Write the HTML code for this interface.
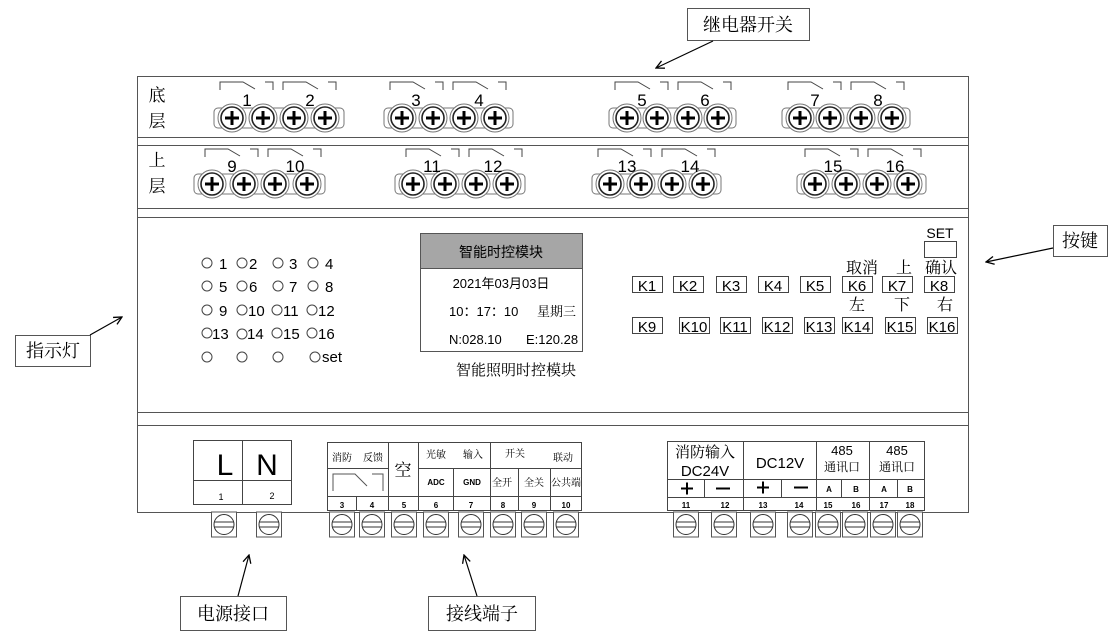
<!DOCTYPE html>
<html><head><meta charset="utf-8"><style>
html,body{margin:0;padding:0;background:#fff;}
svg{display:block;font-family:"Liberation Sans","Noto Sans CJK SC",sans-serif;}
.s{font-family:"Noto Serif CJK SC","Noto Sans CJK SC",serif;}
</style></head><body>
<svg width="1120" height="637" viewBox="0 0 1120 637" xmlns="http://www.w3.org/2000/svg">
<defs>
<g id="scr">
<circle r="14" fill="#fff" stroke="#777" stroke-width="1"/>
<circle r="11" fill="#fff" stroke="#222" stroke-width="1.6"/>
<path d="M-7 0H7M0 -7V7" stroke="#000" stroke-width="3"/>
</g>
<g id="ts">
<rect x="-12.5" y="0" width="25" height="25" fill="#fff" stroke="#555"/>
<circle cx="0" cy="12.5" r="10" fill="#fff" stroke="#333"/>
<path d="M-10 10H10M-10 15H10" stroke="#333"/>
</g>
<marker id="ar" markerWidth="10" markerHeight="10" refX="9" refY="5" orient="auto" markerUnits="userSpaceOnUse"><path d="M1 1L9 5L1 9" fill="none" stroke="#000" stroke-width="1.3"/></marker>
</defs>

<!-- main box -->
<rect x="137.5" y="76.5" width="831" height="436" fill="#fff" stroke="#555"/>
<path d="M137 137.5H969M137 145.5H969M137 208.5H969M137 217.5H969M137 412.5H969M137 425.5H969" stroke="#555"/>

<text x="157" y="101" font-size="17" class="s" text-anchor="middle">底</text>
<text x="157" y="127" font-size="17" class="s" text-anchor="middle">层</text>
<text x="157" y="166" font-size="17" class="s" text-anchor="middle">上</text>
<text x="157" y="192" font-size="17" class="s" text-anchor="middle">层</text>

<g fill="#fff" stroke="#777">
<rect x="214" y="108" width="130" height="20" rx="4"/>
<rect x="384" y="108" width="129" height="20" rx="4"/>
<rect x="609" y="108" width="127" height="20" rx="4"/>
<rect x="782" y="108" width="128" height="20" rx="4"/>
<rect x="194" y="174" width="131" height="20" rx="4"/>
<rect x="395" y="174" width="130" height="20" rx="4"/>
<rect x="592" y="174" width="129" height="20" rx="4"/>
<rect x="797" y="174" width="129" height="20" rx="4"/>
</g>
<use href="#scr" x="232" y="118"/><use href="#scr" x="263" y="118"/><use href="#scr" x="294" y="118"/><use href="#scr" x="325" y="118"/>
<use href="#scr" x="402" y="118"/><use href="#scr" x="433" y="118"/><use href="#scr" x="464" y="118"/><use href="#scr" x="495" y="118"/>
<use href="#scr" x="627" y="118"/><use href="#scr" x="657" y="118"/><use href="#scr" x="688" y="118"/><use href="#scr" x="718" y="118"/>
<use href="#scr" x="800" y="118"/><use href="#scr" x="830" y="118"/><use href="#scr" x="861" y="118"/><use href="#scr" x="892" y="118"/>
<use href="#scr" x="212" y="184"/><use href="#scr" x="244" y="184"/><use href="#scr" x="275" y="184"/><use href="#scr" x="307" y="184"/>
<use href="#scr" x="413" y="184"/><use href="#scr" x="445" y="184"/><use href="#scr" x="476" y="184"/><use href="#scr" x="507" y="184"/>
<use href="#scr" x="610" y="184"/><use href="#scr" x="641" y="184"/><use href="#scr" x="672" y="184"/><use href="#scr" x="703" y="184"/>
<use href="#scr" x="815" y="184"/><use href="#scr" x="846" y="184"/><use href="#scr" x="877" y="184"/><use href="#scr" x="908" y="184"/>

<g fill="none" stroke="#444" stroke-width="1">
<path d="M220 90V82H243L255 89M265 82H273V90"/>
<path d="M283 90V82H306L318 89M328 82H336V90"/>
<path d="M390 90V82H413L425 89M435 82H443V90"/>
<path d="M453 90V82H476L488 89M498 82H506V90"/>
<path d="M615 90V82H638L650 89M660 82H668V90"/>
<path d="M678 90V82H701L713 89M723 82H731V90"/>
<path d="M788 90V82H811L823 89M833 82H841V90"/>
<path d="M851 90V82H874L886 89M896 82H904V90"/>
<path d="M205 157V149H228L240 156M250 149H258V157"/>
<path d="M268 157V149H291L303 156M313 149H321V157"/>
<path d="M406 157V149H429L441 156M451 149H459V157"/>
<path d="M469 157V149H492L504 156M514 149H522V157"/>
<path d="M598 157V149H621L633 156M643 149H651V157"/>
<path d="M662 157V149H685L697 156M707 149H715V157"/>
<path d="M805 157V149H828L840 156M850 149H858V157"/>
<path d="M868 157V149H891L903 156M913 149H921V157"/>
</g>
<g font-size="17" text-anchor="middle">
<text x="247" y="106">1</text><text x="310" y="106">2</text><text x="416" y="106">3</text><text x="479" y="106">4</text>
<text x="642" y="106">5</text><text x="705" y="106">6</text><text x="815" y="106">7</text><text x="878" y="106">8</text>
<text x="232" y="172">9</text><text x="295" y="172">10</text><text x="432" y="172">11</text><text x="493" y="172">12</text>
<text x="627" y="172">13</text><text x="690" y="172">14</text><text x="833" y="172">15</text><text x="895" y="172">16</text>
</g>

<!-- indicators -->
<g fill="none" stroke="#444">
<circle cx="207" cy="263" r="5"/><circle cx="242" cy="263" r="5"/><circle cx="278" cy="263" r="5"/><circle cx="313" cy="263" r="5"/>
<circle cx="207" cy="286" r="5"/><circle cx="242" cy="286" r="5"/><circle cx="278" cy="286" r="5"/><circle cx="313" cy="286" r="5"/>
<circle cx="207" cy="310" r="5"/><circle cx="242" cy="310" r="5"/><circle cx="277" cy="310" r="5"/><circle cx="312" cy="310" r="5"/>
<circle cx="207" cy="333" r="5"/><circle cx="242" cy="334" r="5"/><circle cx="277" cy="333" r="5"/><circle cx="312" cy="333" r="5"/>
<circle cx="207" cy="357" r="5"/><circle cx="242" cy="357" r="5"/><circle cx="278" cy="357" r="5"/><circle cx="315" cy="357" r="5"/>
</g>
<g font-size="15">
<text x="219" y="269">1</text><text x="249" y="269">2</text><text x="289" y="269">3</text><text x="325" y="269">4</text>
<text x="219" y="292">5</text><text x="249" y="292">6</text><text x="289" y="292">7</text><text x="325" y="292">8</text>
<text x="219" y="316">9</text><text x="248" y="316">10</text><text x="283" y="316">11</text><text x="318" y="316">12</text>
<text x="212" y="339">13</text><text x="247" y="339">14</text><text x="283" y="339">15</text><text x="318" y="339">16</text>
<text x="322" y="362">set</text>
</g>

<!-- LCD -->
<rect x="420.5" y="233.5" width="162" height="118" fill="#fff" stroke="#555"/>
<rect x="421" y="234" width="161" height="34" fill="#a6a6a6"/>
<line x1="420" y1="268.5" x2="582" y2="268.5" stroke="#555"/>
<text x="501" y="257" font-size="14" text-anchor="middle">智能时控模块</text>
<text x="501" y="288" font-size="13" text-anchor="middle">2021年03月03日</text>
<text x="449" y="316" font-size="13">10：17：10</text>
<text x="537" y="316" font-size="13" class="s">星期三</text>
<text x="449" y="344" font-size="13">N:028.10</text>
<text x="526" y="344" font-size="13">E:120.28</text>
<text x="516" y="375" font-size="15" class="s" text-anchor="middle">智能照明时控模块</text>

<!-- keys -->
<g fill="none" stroke="#444">
<rect x="632.5" y="276.5" width="30" height="16"/><rect x="673.5" y="276.5" width="30" height="16"/><rect x="716.5" y="276.5" width="30" height="16"/><rect x="758.5" y="276.5" width="30" height="16"/>
<rect x="800.5" y="276.5" width="30" height="16"/><rect x="842.5" y="276.5" width="30" height="16"/><rect x="882.5" y="276.5" width="30" height="16"/><rect x="924.5" y="276.5" width="30" height="16"/>
<rect x="632.5" y="317.5" width="30" height="16"/><rect x="679.5" y="317.5" width="30" height="16"/><rect x="720.5" y="317.5" width="30" height="16"/><rect x="762.5" y="317.5" width="30" height="16"/>
<rect x="804.5" y="317.5" width="30" height="16"/><rect x="842.5" y="317.5" width="30" height="16"/><rect x="885.5" y="317.5" width="30" height="16"/><rect x="927.5" y="317.5" width="30" height="16"/>
<rect x="924.5" y="241.5" width="32" height="16"/>
</g>
<g font-size="15" text-anchor="middle">
<text x="647" y="291">K1</text><text x="688" y="291">K2</text><text x="731" y="291">K3</text><text x="773" y="291">K4</text>
<text x="815" y="291">K5</text><text x="857" y="291">K6</text><text x="897" y="291">K7</text><text x="939" y="291">K8</text>
<text x="647" y="332">K9</text><text x="694" y="332">K10</text><text x="735" y="332">K11</text><text x="777" y="332">K12</text>
<text x="819" y="332">K13</text><text x="857" y="332">K14</text><text x="900" y="332">K15</text><text x="942" y="332">K16</text>
<text x="940" y="238" font-size="14">SET</text>
</g>
<g font-size="16" class="s" text-anchor="middle">
<text x="862" y="273">取消</text><text x="904" y="273">上</text><text x="941" y="273">确认</text>
<text x="857" y="310">左</text><text x="902" y="310">下</text><text x="945" y="310">右</text>
</g>

<!-- L N -->
<rect x="193.5" y="440.5" width="98" height="64" fill="#fff" stroke="#444"/>
<path d="M242.5 440V504M193 480.5H291" stroke="#444"/>
<text x="225" y="475" font-size="30" text-anchor="middle">L</text>
<text x="267" y="475" font-size="30" text-anchor="middle">N</text>
<text x="221" y="500" font-size="9" text-anchor="middle">1</text>
<text x="272" y="499" font-size="9" text-anchor="middle">2</text>
<use href="#ts" x="224" y="512"/><use href="#ts" x="269" y="512"/>

<!-- block 2 -->
<g fill="none" stroke="#444">
<rect x="327.5" y="442.5" width="254" height="68"/>
<path d="M388.5 442V510M418.5 442V510M490.5 442V510M453.5 468V510M518.5 468V510M550.5 468V510M356.5 496V510"/>
<path d="M327 468.5H388M418 468.5H582M327 496.5H582"/>
<path d="M333 491V474H355L367 486M372 474H383V491" stroke="#555"/>
</g>
<g font-size="10" class="s" text-anchor="middle">
<text x="342" y="461">消防</text><text x="373" y="461">反馈</text>
<text x="436" y="458">光敏</text><text x="473" y="458">输入</text>
<text x="515" y="457">开关</text><text x="563" y="461">联动</text>
<text x="502" y="486">全开</text><text x="534" y="486">全关</text><text x="566" y="486">公共端</text>
</g>
<text x="403" y="476" font-size="17" class="s" text-anchor="middle">空</text>
<g font-size="8" text-anchor="middle" font-weight="bold">
<text x="436" y="485">ADC</text><text x="472" y="485">GND</text>
<text x="342" y="508">3</text><text x="372" y="508">4</text><text x="404" y="508">5</text><text x="436" y="508">6</text>
<text x="471" y="508">7</text><text x="503" y="508">8</text><text x="534" y="508">9</text><text x="566" y="508">10</text>
</g>
<use href="#ts" x="342" y="512"/><use href="#ts" x="372" y="512"/><use href="#ts" x="404" y="512"/><use href="#ts" x="436" y="512"/>
<use href="#ts" x="471" y="512"/><use href="#ts" x="503" y="512"/><use href="#ts" x="534" y="512"/><use href="#ts" x="566" y="512"/>

<!-- block 3 -->
<g fill="none" stroke="#444">
<rect x="667.5" y="441.5" width="257" height="69"/>
<path d="M743.5 441V510M816.5 441V510M869.5 441V510M704.5 479V497M781.5 479V497M841.5 479V497M897.5 479V497"/>
<path d="M667 479.5H925M667 497.5H925"/>
</g>
<text x="705" y="457" font-size="15" class="s" text-anchor="middle">消防输入</text>
<text x="705" y="476" font-size="15" text-anchor="middle">DC24V</text>
<text x="780" y="468" font-size="15" text-anchor="middle">DC12V</text>
<text x="842" y="455" font-size="13" text-anchor="middle">485</text>
<text x="842" y="471" font-size="12" class="s" text-anchor="middle">通讯口</text>
<text x="897" y="455" font-size="13" text-anchor="middle">485</text>
<text x="897" y="471" font-size="12" class="s" text-anchor="middle">通讯口</text>
<path d="M681 488.5H693M687 482.5V494.5M716 488.5H730M757 487.5H769M763 481.5V493.5M794 487.5H808" stroke="#000" stroke-width="2"/>
<g font-size="8" text-anchor="middle" font-weight="bold">
<text x="829" y="492">A</text><text x="856" y="492">B</text><text x="884" y="492">A</text><text x="910" y="492">B</text>
<text x="686" y="508">11</text><text x="725" y="508">12</text><text x="763" y="508">13</text><text x="799" y="508">14</text>
<text x="828" y="508">15</text><text x="856" y="508">16</text><text x="884" y="508">17</text><text x="910" y="508">18</text>
</g>
<use href="#ts" x="686" y="512"/><use href="#ts" x="724" y="512"/><use href="#ts" x="763" y="512"/><use href="#ts" x="800" y="512"/>
<use href="#ts" x="828" y="512"/><use href="#ts" x="855" y="512"/><use href="#ts" x="883" y="512"/><use href="#ts" x="910" y="512"/>

<!-- callouts -->
<g fill="#fff" stroke="#555">
<rect x="687.5" y="8.5" width="122" height="32"/>
<rect x="1053.5" y="225.5" width="54" height="31"/>
<rect x="15.5" y="335.5" width="75" height="31"/>
<rect x="180.5" y="596.5" width="106" height="34"/>
<rect x="428.5" y="596.5" width="107" height="34"/>
</g>
<g stroke="#000" stroke-width="1.2" fill="none" marker-end="url(#ar)">
<line x1="713" y1="41" x2="656" y2="68"/>
<line x1="1053" y1="248" x2="986" y2="262"/>
<line x1="90" y1="335" x2="122" y2="317"/>
<line x1="238" y1="596" x2="249" y2="555"/>
<line x1="477" y1="596" x2="464" y2="555"/>
</g>
<g font-size="18" class="s" text-anchor="middle">
<text x="748" y="31">继电器开关</text>
<text x="1080" y="247">按键</text>
<text x="53" y="357">指示灯</text>
<text x="233" y="620">电源接口</text>
<text x="482" y="620">接线端子</text>
</g>
</svg>
</body></html>
